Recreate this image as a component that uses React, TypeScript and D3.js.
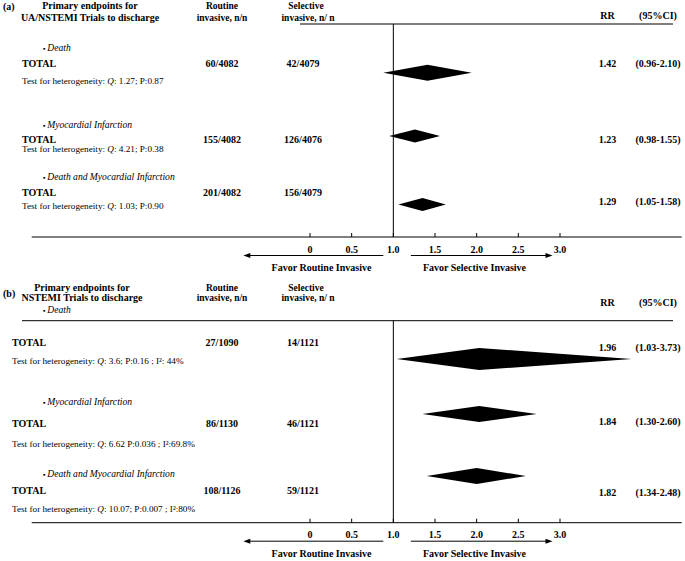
import React from "react";
import * as d3 from "d3";

// ---------- data ----------
const outcomes = ["Death", "Myocardial Infarction", "Death and Myocardial Infarction"];

const routineA = ["60/4082", "155/4082", "201/4082"];
const selectiveA = ["42/4079", "126/4076", "156/4079"];
const rrA = ["1.42", "1.23", "1.29"];
const ciA = ["(0.96-2.10)", "(0.98-1.55)", "(1.05-1.58)"];
const hetA = [": 1.27; P:0.87", ": 4.21; P:0.38", ": 1.03; P:0.90"];
const diamondLoA = [0.88, 0.95, 1.06];
const diamondMidA = [1.41, 1.26, 1.35];
const diamondHiA = [1.94, 1.56, 1.63];

const routineB = ["27/1090", "86/1130", "108/1126"];
const selectiveB = ["14/1121", "46/1121", "59/1121"];
const rrB = ["1.96", "1.84", "1.82"];
const ciB = ["(1.03-3.73)", "(1.30-2.60)", "(1.34-2.48)"];
const hetB = [": 3.6; P:0.16 ; I\u00B2: 44%", ": 6.62 P:0.036 ; I\u00B2:69.8%", ": 10.07; P:0.007 ; I\u00B2:80%"];
const diamondLoB = [1.04, 1.35, 1.40];
const diamondMidB = [2.03, 2.03, 2.00];
const diamondHiB = [3.86, 2.72, 2.59];

const tickValues = [0, 0.5, 1.0, 1.5, 2.0, 2.5, 3.0];
const tickLabels = ["0", "0.5", "1.0", "1.5", "2.0", "2.5", "3.0"];

// ---------- layout ----------
const W = 685;
const H = 561;
const FONT = "'Liberation Serif', 'Times New Roman', serif";
const x = d3.scaleLinear().domain([0, 3]).range([310, 560]);

type Layout = {
  tag: string;
  tagY: number;
  head1: string;
  head2: string;
  headX: number;
  headY: [number, number];
  rrHeadY: number;
  headLineY: number;
  headLineX0: number;
  textX: number;
  bulletY: number[];
  totalY: number[];
  rrY: number[];
  hetY: number[];
  diaY: number[];
  diaH: number[];
  axisY: number;
};

const layoutA: Layout = {
  tag: "(a)",
  tagY: 10,
  head1: "Primary endpoints  for",
  head2: "UA/NSTEMI  Trials to discharge",
  headX: 90,
  headY: [9, 21],
  rrHeadY: 19,
  headLineY: 24,
  headLineX0: 300,
  textX: 22,
  bulletY: [50.5, 127.5, 180],
  totalY: [67, 143, 195.5],
  rrY: [67, 143, 204.5],
  hetY: [83.5, 152, 208.5],
  diaY: [72.7, 136, 204.5],
  diaH: [8, 6.5, 6.5],
  axisY: 237,
};

const layoutB: Layout = {
  tag: "(b)",
  tagY: 297,
  head1: "Primary endpoints  for",
  head2: "NSTEMI  Trials to discharge",
  headX: 82,
  headY: [291, 301],
  rrHeadY: 305.5,
  headLineY: 320.7,
  headLineX0: 22,
  textX: 12,
  bulletY: [313, 404.5, 477],
  totalY: [345.5, 427, 494],
  rrY: [350.5, 424.5, 495.5],
  hetY: [363.5, 446.5, 512],
  diaY: [359, 414, 476],
  diaH: [11, 8, 8],
  axisY: 522.7,
};

function Panel(props: {
  L: Layout;
  routine: string[];
  selective: string[];
  rr: string[];
  ci: string[];
  het: string[];
  lo: number[];
  mid: number[];
  hi: number[];
}) {
  const { L, routine, selective, rr, ci, het, lo, mid, hi } = props;
  const bold = { fontFamily: FONT, fontWeight: 700, fontSize: 10, fill: "#000" } as const;
  const norm = { fontFamily: FONT, fontSize: 9.2, fill: "#000" } as const;
  const arrowY = L.axisY + 18.5;
  const diamond = d3.line<[number, number]>();
  return (
    <g>
      <text x={3} y={L.tagY} {...bold}>{L.tag}</text>
      <text x={L.headX} y={L.headY[0]} textAnchor="middle" {...bold}>{L.head1}</text>
      <text x={L.headX} y={L.headY[1]} textAnchor="middle" {...bold}>{L.head2}</text>
      <text x={222} y={L.headY[0]} textAnchor="middle" {...bold} fontSize={9.5}>Routine</text>
      <text x={222} y={L.headY[1]} textAnchor="middle" {...bold} fontSize={9.5}>invasive, n/n</text>
      <text x={306} y={L.headY[0]} textAnchor="middle" {...bold} fontSize={9.5}>Selective</text>
      <text x={308} y={L.headY[1]} textAnchor="middle" {...bold} fontSize={9.5}>invasive, n/ n</text>
      <text x={607.5} y={L.rrHeadY} textAnchor="middle" {...bold}>RR</text>
      <text x={658} y={L.rrHeadY} textAnchor="middle" {...bold}>(95%CI)</text>
      <line x1={L.headLineX0} x2={673} y1={L.headLineY} y2={L.headLineY} stroke="#000" strokeWidth={1} />
      <line x1={x(1)} x2={x(1)} y1={L.headLineY} y2={L.axisY} stroke="#000" strokeWidth={1} />

      {outcomes.map((o, i) => (
        <g key={o}>
          <text x={43} y={L.bulletY[i]} {...norm} fontSize={9.6}>
            <tspan fontSize={7}>{"\u25AA "}</tspan>
            <tspan fontStyle="italic">{o}</tspan>
          </text>
          <text x={L.textX} y={L.totalY[i]} {...bold}>TOTAL</text>
          <text x={222} y={L.totalY[i]} textAnchor="middle" {...bold}>{routine[i]}</text>
          <text x={303} y={L.totalY[i]} textAnchor="middle" {...bold}>{selective[i]}</text>
          <text x={607.5} y={L.rrY[i]} textAnchor="middle" {...bold}>{rr[i]}</text>
          <text x={658} y={L.rrY[i]} textAnchor="middle" {...bold}>{ci[i]}</text>
          <text x={L.textX} y={L.hetY[i]} {...norm}>
            Test for heterogeneity: <tspan fontStyle="italic">Q</tspan>{het[i]}
          </text>
          <path
            d={diamond([
              [x(lo[i]), L.diaY[i]],
              [x(mid[i]), L.diaY[i] - L.diaH[i]],
              [x(hi[i]), L.diaY[i]],
              [x(mid[i]), L.diaY[i] + L.diaH[i]],
            ]) + "Z"}
            fill="#000"
          />
        </g>
      ))}

      <line x1={31.7} x2={681.7} y1={L.axisY} y2={L.axisY} stroke="#000" strokeWidth={1} />
      {tickValues.map((t, i) => (
        <g key={t}>
          <line x1={x(t)} x2={x(t)} y1={L.axisY - 4} y2={L.axisY} stroke="#000" strokeWidth={1} />
          <text x={x(t)} y={L.axisY + 15.5} textAnchor="middle" {...bold}>{tickLabels[i]}</text>
        </g>
      ))}

      {/* favor arrows */}
      <line x1={x(0.88)} x2={x(-0.8) + 6} y1={arrowY} y2={arrowY} stroke="#000" strokeWidth={1} />
      <path d={`M${x(-0.8)},${arrowY} L${x(-0.8) + 7},${arrowY - 2.5} L${x(-0.8) + 7},${arrowY + 2.5} Z`} fill="#000" />
      <line x1={x(1.21)} x2={x(2.91) - 6} y1={arrowY} y2={arrowY} stroke="#000" strokeWidth={1} />
      <path d={`M${x(2.91)},${arrowY} L${x(2.91) - 7},${arrowY - 2.5} L${x(2.91) - 7},${arrowY + 2.5} Z`} fill="#000" />
      <text x={321.5} y={L.axisY + 34} textAnchor="middle" {...bold}>Favor Routine Invasive</text>
      <text x={474.5} y={L.axisY + 34} textAnchor="middle" {...bold}>Favor Selective Invasive</text>
    </g>
  );
}

export default function App() {
  return (
    <svg
      width={W}
      height={H}
      viewBox={`0 0 ${W} ${H}`}
      style={{ position: "absolute", left: 0, top: 0, background: "#fff" }}
    >
      <rect x={0} y={0} width={W} height={H} fill="#fff" />
      <Panel
        L={layoutA}
        routine={routineA}
        selective={selectiveA}
        rr={rrA}
        ci={ciA}
        het={hetA}
        lo={diamondLoA}
        mid={diamondMidA}
        hi={diamondHiA}
      />
      <Panel
        L={layoutB}
        routine={routineB}
        selective={selectiveB}
        rr={rrB}
        ci={ciB}
        het={hetB}
        lo={diamondLoB}
        mid={diamondMidB}
        hi={diamondHiB}
      />
    </svg>
  );
}
